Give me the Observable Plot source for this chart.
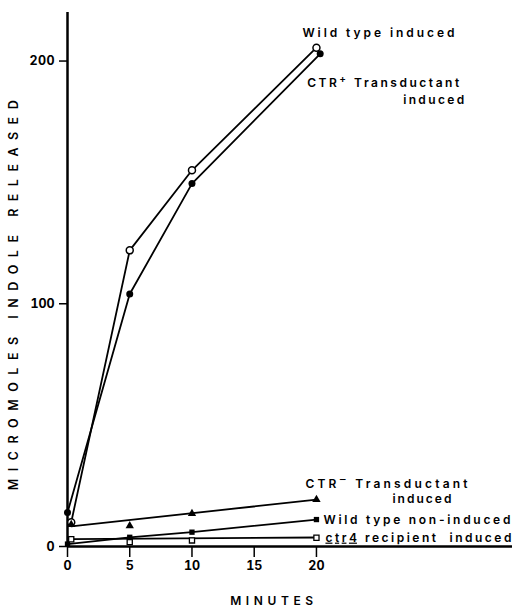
<!DOCTYPE html>
<html><head><meta charset="utf-8">
<script src="https://cdn.jsdelivr.net/npm/d3@7"></script>
<script src="https://cdn.jsdelivr.net/npm/@observablehq/plot@0.6"></script>
<style>
body{margin:0;background:#fff;}
#chart svg text{font-family: Inter, "DejaVu Sans", sans-serif;}
g[aria-label="y-axis tick label"], g[aria-label="x-axis tick label"]{font-weight:700;}
</style></head><body><div id="chart"></div>
<script>
// ---- data ----
const xTicks = [0, 5, 10, 15, 20];
const yTicks = [0, 100, 200];

const wtIndT = [0.3, 5, 10, 20];
const wtIndV = [10, 122, 155, 205.5];

const ctrPlusT = [0, 5, 10, 20.3];
const ctrPlusV = [14, 104, 149.5, 203];

const ctrMinusT = [0.3, 5, 10, 20];
const ctrMinusV = [9, 8.5, 13.6, 19.3];
const ctrMinusFitT = [0.3, 20];
const ctrMinusFitV = [8.3, 19.3];

const wtNonT = [0, 5, 10, 20];
const wtNonV = [1, 3.8, 5.9, 11.1];

const ctr4T = [0.3, 5, 10, 20];
const ctr4V = [3, 1.8, 2.5, 3.6];
const ctr4FitT = [0.3, 20];
const ctr4FitV = [3, 3.7];

const xLabel = "MINUTES";
const yLabel = "MICROMOLES INDOLE RELEASED";
const lblWtInd = "Wild type induced";
const lblCtrPlus = "CTR+ Transductant";
const lblCtrMinus = "CTR- Transductant";
const lblInduced = "induced";
const lblInduced2 = "induced ";
const lblWtNon = "Wild type non-induced";
const lblCtr4 = "ctr4 recipient  induced";

const rows = (t, v) => t.map((x, i) => ({t: x, v: v[i]}));
const last = (t, v) => [{t: t[t.length - 1], v: v[v.length - 1]}];

const lineOpts = {x: "t", y: "v", stroke: "black", strokeWidth: 1.8};
const lblFont = {fontSize: 12, fontWeight: 600, fill: "black"};

const chart = Plot.plot({
  width: 512, height: 611,
  marginLeft: 67, marginRight: 0, marginTop: 12, marginBottom: 65,
  x: {domain: [0, 35.75]},
  y: {domain: [0, 220]},
  style: {background: "white", color: "black"},
  marks: [
    Plot.ruleX([0], {strokeWidth: 2.5}),
    Plot.ruleY([0], {strokeWidth: 2.5}),
    Plot.axisY({ticks: yTicks, tickSize: 8, tickPadding: 5, tickFormat: d => d, label: null, fontSize: 12.5, strokeWidth: 1.5}),
    Plot.axisX({ticks: xTicks, tickSize: 11, tickPadding: 4, tickFormat: d => d, label: null, fontSize: 12.5, strokeWidth: 1.5}),
    Plot.line(rows(wtIndT, wtIndV), lineOpts),
    Plot.line(rows(ctrPlusT, ctrPlusV), lineOpts),
    Plot.line(rows(ctrMinusFitT, ctrMinusFitV), lineOpts),
    Plot.line(rows(wtNonT, wtNonV), lineOpts),
    Plot.line(rows(ctr4FitT, ctr4FitV), lineOpts),
    Plot.dot(rows(wtIndT, wtIndV), {x: "t", y: "v", r: 3.5, fill: "white", stroke: "black", strokeWidth: 1.5}),
    Plot.dot(rows(ctrPlusT, ctrPlusV), {x: "t", y: "v", r: 3.5, fill: "black"}),
    Plot.dot(rows(ctrMinusT, ctrMinusV), {x: "t", y: "v", r: 3.1, symbol: "triangle", fill: "black"}),
    Plot.dot(rows(wtNonT, wtNonV), {x: "t", y: "v", r: 3, symbol: "square", fill: "black"}),
    Plot.dot(rows(ctr4T, ctr4V), {x: "t", y: "v", r: 2.9, symbol: "square", fill: "white", stroke: "black", strokeWidth: 1.3}),
    Plot.text(last(wtIndT, wtIndV), {x: "t", y: "v", text: () => lblWtInd, textAnchor: "start", dx: -14, dy: -15, ...lblFont}),
    Plot.text(last(ctrPlusT, ctrPlusV), {x: "t", y: "v", text: () => lblCtrPlus, textAnchor: "start", dx: -13, dy: 29, ...lblFont}),
    Plot.text(last(ctrPlusT, ctrPlusV), {x: "t", y: "v", text: () => lblInduced, textAnchor: "end", dx: 144, dy: 46, ...lblFont}),
    Plot.text(last(ctrMinusT, ctrMinusV), {x: "t", y: "v", text: () => lblCtrMinus, textAnchor: "start", dx: -11, dy: -15, ...lblFont}),
    Plot.text(last(ctrMinusT, ctrMinusV), {x: "t", y: "v", text: () => lblInduced2, textAnchor: "end", dx: 140, dy: 0, ...lblFont}),
    Plot.text(last(wtNonT, wtNonV), {x: "t", y: "v", text: () => lblWtNon, textAnchor: "start", dx: 7, dy: 1, ...lblFont}),
    Plot.text(last(ctr4T, ctr4V), {x: "t", y: "v", text: () => lblCtr4, textAnchor: "start", dx: 9, dy: 0, ...lblFont}),
    Plot.text([xLabel], {x: 16.4, frameAnchor: "bottom", dy: 58, text: d => d, fontSize: 12, fontWeight: 600}),
    Plot.text([yLabel], {frameAnchor: "left", textAnchor: "middle", y: 103.5, dx: -54, rotate: -90, text: d => d, fontSize: 12.5, fontWeight: 600})
  ]
});
document.getElementById("chart").appendChild(chart);

// stretch the widely spaced lettering to the widths seen in the figure,
// then add superscripts and underline (text stays real text)
const widths = {
  [xLabel]: 83, [yLabel]: 390, [lblWtInd]: 152, [lblCtrPlus]: 152, [lblCtrMinus]: 162,
  [lblInduced]: 61, [lblInduced2]: 64, [lblWtNon]: 187, [lblCtr4]: 186, "100": 24, "200": 25
};
d3.select(chart).selectAll("text").each(function() {
  const t = this.textContent;
  const sel = d3.select(this);
  const w = widths[t];
  if (w != null) { sel.attr("textLength", w).attr("lengthAdjust", "spacing"); }
  if (t === lblCtrPlus || t === lblCtrMinus) {
    sel.text(null);
    sel.append("tspan").text("CTR");
    sel.append("tspan").attr("dy", -5).attr("font-size", 10).text(t === lblCtrPlus ? "+" : "\u2012");
    sel.append("tspan").attr("dy", 5).text(" Transductant");
  } else if (t === lblCtr4) {
    sel.text(null);
    sel.append("tspan").attr("text-decoration", "underline").text("ctr4");
    sel.append("tspan").text(" recipient  induced");
  }
});
</script></body></html>
